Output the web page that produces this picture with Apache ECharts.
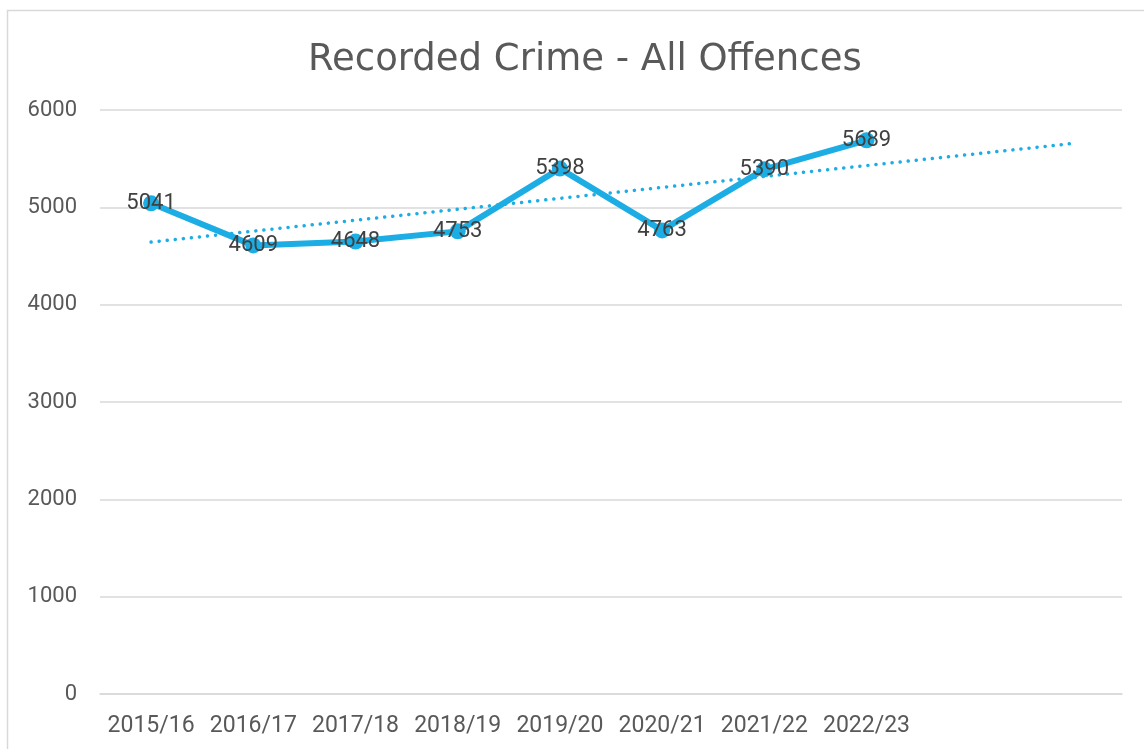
<!DOCTYPE html>
<html>
<head>
<meta charset="utf-8">
<script src="https://cdn.jsdelivr.net/npm/echarts@6/dist/echarts.min.js"></script>
<style>
  html, body { margin: 0; padding: 0; background: #fff; }
  #chart { width: 1144px; height: 749px; }
</style>
</head>
<body>
<div id="chart"></div>
<script>
const years = ["2015/16", "2016/17", "2017/18", "2018/19", "2019/20", "2020/21", "2021/22", "2022/23"];
const offences = [5041, 4609, 4648, 4753, 5398, 4763, 5390, 5689];
// trendline ends (runs 2 periods past the last year)
const trendX = [0, 9];
const trendY = [4643, 5654];
const yTicks = { min: 0, max: 6000, step: 1000 };

const titleFont = "DejaVu Sans";
const numFont = "Roboto";
const axisCats = years.concat(["", ""]);

const chart = echarts.init(document.getElementById("chart"));
chart.setOption({
  animation: false,
  textStyle: { fontFamily: numFont },
  title: {
    text: "Recorded Crime - All Offences",
    left: 303,
    top: 37,
    textStyle: { fontFamily: titleFont, fontSize: 37, fontWeight: "normal", color: "#595959" }
  },
  graphic: [{
    type: "rect",
    shape: { x: 7.5, y: 10.5, width: 1160, height: 760 },
    style: { fill: "none", stroke: "#d9d9d9", lineWidth: 1.5 },
    silent: true
  }],
  grid: { left: 100, right: 22, top: 110, bottom: 55 },
  xAxis: [{
    type: "category",
    data: axisCats,
    boundaryGap: true,
    axisTick: { show: false },
    axisLine: { show: true, lineStyle: { color: "#d9d9d9", width: 1.5 } },
    axisLabel: { interval: 0, color: "#595959", fontFamily: numFont, fontSize: 23, margin: 21 }
  }, {
    type: "value",
    min: -0.5,
    max: axisCats.length - 0.5,
    show: false
  }],
  yAxis: {
    type: "value",
    min: yTicks.min,
    max: yTicks.max,
    interval: yTicks.step,
    axisLine: { show: false },
    axisTick: { show: false },
    axisLabel: { color: "#595959", fontFamily: numFont, fontSize: 22, margin: 23, formatter: v => String(v) },
    splitLine: { lineStyle: { color: "#d9d9d9", width: 1.5 } }
  },
  series: [{
    type: "line",
    xAxisIndex: 1,
    data: trendX.map((x, i) => [x, trendY[i]]),
    symbol: "none",
    lineStyle: { color: "#1cade4", width: 3.5, type: [0.1, 8], cap: "round" },
    z: 1
  }, {
    type: "line",
    data: offences,
    symbol: "circle",
    symbolSize: 16,
    itemStyle: { color: "#1cade4" },
    lineStyle: { color: "#1cade4", width: 6 },
    label: {
      show: true,
      position: "inside",
      color: "#404040",
      fontFamily: numFont,
      fontSize: 22
    },
    z: 2
  }]
});
</script>
</body>
</html>
